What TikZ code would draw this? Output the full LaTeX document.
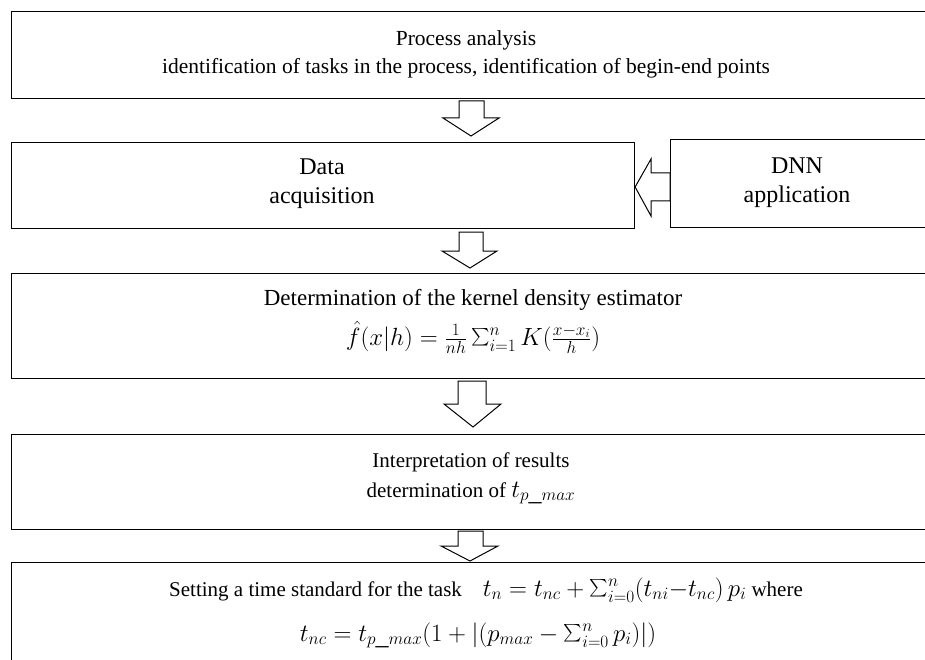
\documentclass[tikz,border=0pt]{standalone}
\usepackage{fontspec}
\setmainfont{Liberation Serif}
\usetikzlibrary{calc}
\tikzset{
  box/.style={draw=black, line width=1.1pt, rectangle, anchor=north west, inner sep=0pt},
  lbl/.style={align=center, inner sep=0pt},
  blk/.style={draw=black, line width=1pt, fill=white, line join=miter}
}
\newcommand{\mth}[1]{{\fontsize{26}{30}\selectfont$#1$}}
\newcommand{\bsum}{\mathop{\vcenter{\hbox{\scalebox{1.75}{$\textstyle\sum$}}}}\nolimits}
\begin{document}
\begin{tikzpicture}[x=1pt, y=-1pt]
\useasboundingbox (0,0) rectangle (925,660);
\clip (0,0) rectangle (925,660);
% boxes
\node[box, minimum width=940pt, minimum height=87pt] (b1) at (11,11) {};
\node[box, minimum width=623pt, minimum height=86pt] (b2) at (11,142) {};
\node[box, minimum width=270pt, minimum height=88pt] (b3) at (670,139) {};
\node[box, minimum width=940pt, minimum height=105pt] (b4) at (11,273) {};
\node[box, minimum width=940pt, minimum height=95pt] (b5) at (11,434) {};
\node[box, minimum width=940pt, minimum height=140pt] (b6) at (11,562) {};
% texts
\node[lbl, font=\fontsize{21.5}{28}\selectfont] (t1) at (466,54) {Process analysis\\identification of tasks in the process, identification of begin-end points};
\node[lbl, font=\fontsize{24}{29}\selectfont] (t2) at (322,184) {Data\\acquisition};
\node[lbl, font=\fontsize{24}{29}\selectfont] (t3) at (797,183) {DNN\\application};
\node[lbl, font=\fontsize{23}{30}\selectfont, anchor=base] (t4a) at (473,305) {Determination of the kernel density estimator};
\node[lbl, anchor=base] (t4b) at (473,345) {\mth{\hat{f}(x|h)=\frac{1}{nh}\bsum_{i=1}^{n}K(\frac{x-x_i}{h})}};
\node[lbl, font=\fontsize{21}{30}\selectfont, anchor=base] (t5a) at (471,467) {Interpretation of results};
\node[lbl, font=\fontsize{21}{30}\selectfont, anchor=base] (t5b) at (471,497) {determination of \mth{t_{p\_max}}};
\node[lbl, font=\fontsize{21}{28}\selectfont, anchor=base] (t6a) at (486,596) {Setting a time standard for the task\quad \mth{t_n=t_{nc}+\bsum_{i=0}^{n}(t_{ni}{-}t_{nc})\,p_i} where};
\node[lbl, anchor=base] (t6b) at (478,641) {\mth{t_{nc}=t_{p\_max}(1+|(p_{max}-\bsum_{i=0}^{n}p_i)|)}};
% block arrows (down)
\draw[blk] (459,101) -- (484,101) -- (484,118) -- (499,118) -- (471,136) -- (443,118) -- (459,118) -- cycle;
\draw[blk] (459,232) -- (483,232) -- (483,251) -- (497,251) -- (470,268) -- (442,251) -- (459,251) -- cycle;
\draw[blk] (458,381) -- (486,381) -- (486,404) -- (501,404) -- (473,427) -- (444,404) -- (458,404) -- cycle;
\draw[blk] (458,531) -- (483,531) -- (483,546) -- (498,546) -- (470,561) -- (441,546) -- (458,546) -- cycle;
% block arrow (left) from DNN to Data
\draw[blk] (b3.west |- 0,173) -- (651,173) -- (651,159) -- (b2.east |- 0,187) -- (651,216) -- (651,201) -- (b3.west |- 0,201) -- cycle;
\end{tikzpicture}
\end{document}
